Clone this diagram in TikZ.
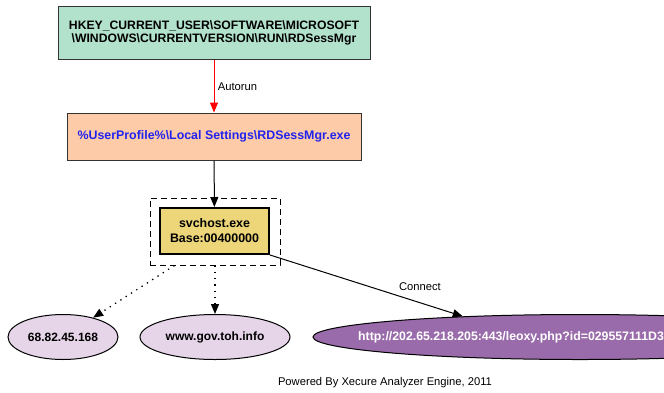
\documentclass[tikz,border=0pt]{standalone}
\usepackage{fontspec}
\setmainfont{Liberation Sans}
\usetikzlibrary{arrows.meta,shapes.geometric}
\definecolor{keyfill}{HTML}{B2E2CC}
\definecolor{filefill}{HTML}{FDCBA7}
\definecolor{exefill}{HTML}{EDD57A}
\definecolor{hostfill}{HTML}{E6D4E8}
\definecolor{urlfill}{HTML}{9A6BAA}
\definecolor{pathblue}{HTML}{2222EE}
\begin{document}
\begin{tikzpicture}[x=1pt,y=-1pt,
  tip/.style={-{Triangle[length=10pt,width=8pt]}},
  dots/.style={line width=1.3pt,dash pattern=on 1.3pt off 5pt},
  rbox/.style={draw=black!80,line width=1pt,rectangle,inner sep=0pt,align=center,font=\bfseries\fontsize{12.2}{13.5}\selectfont},
  host/.style={draw=black,line width=1pt,ellipse,inner sep=0pt,minimum height=45pt,font=\bfseries\fontsize{12}{13}\selectfont},
  elabel/.style={font=\fontsize{11.2}{13}\selectfont}]
\useasboundingbox (0,0) rectangle (664,392);
\clip (0,0) rectangle (664,392);
% registry key
\node[rbox,fill=keyfill,minimum width=312pt,minimum height=53pt] (key) at (214,33)
  {HKEY\_CURRENT\_USER\textbackslash SOFTWARE\textbackslash MICROSOFT\\
   \textbackslash WINDOWS\textbackslash CURRENTVERSION\textbackslash RUN\textbackslash RDSessMgr};
% dropped file
\node[rbox,fill=filefill,minimum width=294pt,minimum height=47pt,text=pathblue,
      font=\bfseries\fontsize{12.4}{14}\selectfont] (file) at (214,136.5)
  {\%UserProfile\%\textbackslash Local Settings\textbackslash RDSessMgr.exe};
% injected process and its group
\node[draw,line width=1pt,dash pattern=on 6pt off 4pt,minimum width=130pt,minimum height=67pt] (grp) at (215,231.5) {};
\node[rbox,fill=exefill,line width=2pt,draw=black,minimum width=109pt,minimum height=46pt,
      font=\bfseries\fontsize{12.4}{15}\selectfont] (exe) at (214.5,231)
  {svchost.exe\\Base:00400000};
% network endpoints
\node[host,fill=hostfill,minimum width=110pt] (ip) at (63,337) {68.82.45.168};
\node[host,fill=hostfill,minimum width=150pt] (dom) at (215,337) {www.gov.toh.info};
\node[host,fill=urlfill,minimum width=534pt] (url) at (580,337) {};
\node[anchor=west,inner sep=0pt,text=white,font=\bfseries\fontsize{12.3}{13}\selectfont] (urltext) at (358,337)
  {http://202.65.218.205:443/leoxy.php?id=029557111D3};
% connectors
\draw[tip,red,line width=1pt] (key) -- node[right,elabel,text=black,xshift=0pt] {Autorun} (file);
\draw[tip,line width=1pt] (file) -- (exe);
\draw[tip,dots] (grp.220) -- (ip);
\draw[tip,dots] (grp.south -| dom.north) -- (dom);
\draw[tip,line width=1pt] (exe.south east) -- node[above right,elabel,pos=0.65,yshift=0pt] {Connect} (url.170);
% footer
\node[elabel] (footer) at (385,383) {Powered By Xecure Analyzer Engine, 2011};
\end{tikzpicture}
\end{document}
